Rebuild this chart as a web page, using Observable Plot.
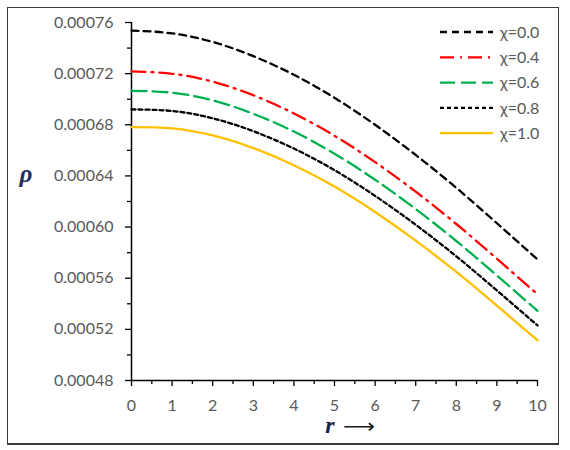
<!DOCTYPE html>
<html>
<head>
<meta charset="utf-8">
<script src="https://cdn.jsdelivr.net/npm/d3@7"></script>
<script src="https://cdn.jsdelivr.net/npm/@observablehq/plot@0.6"></script>
<style>
  html, body { margin: 0; padding: 0; background: #fff; }
  #chart { position: relative; width: 570px; height: 450px; }
  #frame {
    position: absolute; left: 7px; top: 7px; width: 552px; height: 438px;
    box-sizing: border-box; border: 1px solid #3a3a3a; border-bottom-width: 2px;
  }
  #chart svg { position: absolute; left: 0; top: 0; }
</style>
</head>
<body>
<div id="chart"><div id="frame"></div></div>
<script>
// Radial coordinate
const r = [0, 1, 2, 3, 4, 5, 6, 7, 8, 9, 10];

// Series names
const chiLabels = ["χ=0.0", "χ=0.4", "χ=0.6", "χ=0.8", "χ=1.0"];

// Density profiles rho(r), one per chi
const rhoChi00 = [0.0007537, 0.0007515, 0.0007448, 0.0007337, 0.0007191, 0.0007011, 0.0006800, 0.0006564, 0.0006307, 0.0006030, 0.0005747];
const rhoChi04 = [0.0007217, 0.0007199, 0.0007137, 0.0007031, 0.0006889, 0.0006714, 0.0006508, 0.0006277, 0.0006024, 0.0005752, 0.0005474];
const rhoChi06 = [0.0007066, 0.0007051, 0.0006991, 0.0006886, 0.0006747, 0.0006574, 0.0006370, 0.0006141, 0.0005891, 0.0005621, 0.0005345];
const rhoChi08 = [0.0006920, 0.0006908, 0.0006851, 0.0006750, 0.0006614, 0.0006445, 0.0006244, 0.0006018, 0.0005771, 0.0005504, 0.0005231];
const rhoChi10 = [0.0006782, 0.0006772, 0.0006717, 0.0006618, 0.0006484, 0.0006317, 0.0006118, 0.0005894, 0.0005649, 0.0005385, 0.0005114];
const rhoSeries = [rhoChi00, rhoChi04, rhoChi06, rhoChi08, rhoChi10];

// Axis ticks
const xTicks = [0, 1, 2, 3, 4, 5, 6, 7, 8, 9, 10];
const xMinorTicks = [0.5, 1.5, 2.5, 3.5, 4.5, 5.5, 6.5, 7.5, 8.5, 9.5];
const yTicks = [0.00048, 0.00052, 0.00056, 0.00060, 0.00064, 0.00068, 0.00072, 0.00076];
const yMinorTicks = [0.00050, 0.00054, 0.00058, 0.00062, 0.00066, 0.00070, 0.00074];

// Line styles per series
const lineColors = ["#000000", "#ff0000", "#00b050", "#000000", "#ffc000"];
const lineDashes = ["7,5", "14,6,2,6", "15,6", "4,3", null];

const rows = chiLabels.flatMap((chi, i) => r.map((rv, j) => ({ chi, r: rv, rho: rhoSeries[i][j] })));

const W = 570, H = 450;
const plot = Plot.plot({
  width: W, height: H,
  marginLeft: 131, marginRight: 33, marginTop: 22, marginBottom: 70,
  style: { fontFamily: "Lato", fontSize: "16px", color: "#595959", background: "transparent", overflow: "visible" },
  x: { domain: [0, 10], label: null },
  y: { domain: [0.00048, 0.00076], label: null },
  marks: [
    Plot.axisY({ ticks: yMinorTicks, tickSize: 4, text: null, label: null, stroke: "#000", strokeWidth: 1.3 }),
    Plot.axisY({ ticks: yTicks, tickSize: 6, tickPadding: 12, label: null, stroke: "#000", strokeWidth: 1.3,
                 fill: "#595959", tickFormat: d => d.toFixed(5) }),
    Plot.axisX({ ticks: xMinorTicks, tickSize: 4, text: null, label: null, stroke: "#000", strokeWidth: 1.3 }),
    Plot.axisX({ ticks: xTicks, tickSize: 6, tickPadding: 13, label: null, stroke: "#000", strokeWidth: 1.3,
                 fill: "#595959", tickFormat: d => String(d) }),
    Plot.ruleX([0], { stroke: "#000", strokeWidth: 1.5 }),
    Plot.ruleY([0.00048], { stroke: "#000", strokeWidth: 1.5 }),
    ...chiLabels.map((chi, i) => Plot.line(rows.filter(d => d.chi === chi), {
      x: "r", y: "rho", stroke: lineColors[i], strokeWidth: 2.3,
      strokeDasharray: lineDashes[i], curve: "natural"
    }))
  ]
});
document.getElementById("chart").appendChild(plot);

// Legend and axis titles
const svg = d3.select("#chart").append("svg")
  .attr("width", W).attr("height", H)
  .style("pointer-events", "none");

const legend = svg.append("g").attr("transform", "translate(440,32)");
chiLabels.forEach((chi, i) => {
  const g = legend.append("g").attr("transform", `translate(0,${i * 25.3})`);
  g.append("line").attr("x1", 0).attr("x2", 53).attr("y1", 0).attr("y2", 0)
    .attr("stroke", lineColors[i]).attr("stroke-width", 2.3)
    .attr("stroke-dasharray", lineDashes[i]);
  g.append("text").attr("x", 60).attr("y", 0).attr("dy", "0.35em")
    .attr("fill", "#595959").style("font", "16px Lato").text(chi);
});

svg.append("text").attr("x", 26).attr("y", 182).attr("text-anchor", "middle")
  .attr("fill", "#1f3060")
  .style("font", "italic bold 25px 'Liberation Serif'").text("ρ");

svg.append("text").attr("x", 330).attr("y", 433).attr("text-anchor", "middle")
  .attr("fill", "#1a2240")
  .style("font", "italic bold 24px 'Liberation Serif'").text("r");
svg.append("text").attr("x", 343).attr("y", 433)
  .attr("textLength", 32).attr("lengthAdjust", "spacingAndGlyphs")
  .attr("fill", "#1a1a1a")
  .style("font", "20px 'DejaVu Sans'").text("⟶");
</script>
</body>
</html>
